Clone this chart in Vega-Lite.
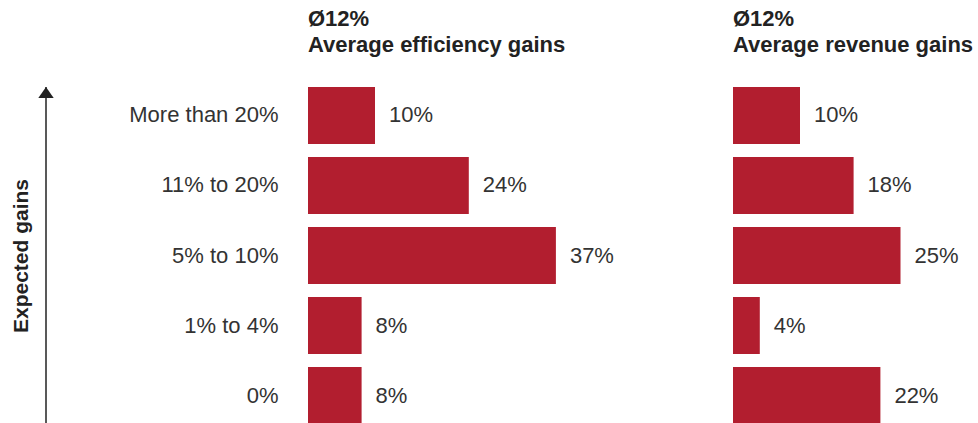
{
  "$schema": "https://vega.github.io/schema/vega-lite/v6.json",
  "background": "white",
  "padding": {"left": 10, "top": 8, "right": 0, "bottom": 0},
  "config": {
    "view": {"stroke": null},
    "font": "Liberation Sans",
    "title": {"font": "Liberation Sans", "fontSize": 22, "fontWeight": "bold", "color": "#222222", "anchor": "start", "frame": "group", "lineHeight": 26, "offset": 30}
  },
  "datasets": {
    "gains": [
      {"panel": "efficiency", "category": "More than 20%", "share": 0.10},
      {"panel": "efficiency", "category": "11% to 20%", "share": 0.24},
      {"panel": "efficiency", "category": "5% to 10%", "share": 0.37},
      {"panel": "efficiency", "category": "1% to 4%", "share": 0.08},
      {"panel": "efficiency", "category": "0%", "share": 0.08},
      {"panel": "revenue", "category": "More than 20%", "share": 0.10},
      {"panel": "revenue", "category": "11% to 20%", "share": 0.18},
      {"panel": "revenue", "category": "5% to 10%", "share": 0.25},
      {"panel": "revenue", "category": "1% to 4%", "share": 0.04},
      {"panel": "revenue", "category": "0%", "share": 0.22}
    ]
  },
  "bounds": "flush",
  "spacing": 157,
  "hconcat": [
    {
      "width": 105,
      "height": 337,
      "data": {"values": [{"direction": "up"}]},
      "layer": [
        {
          "mark": {"type": "rule", "color": "#222222", "strokeWidth": 1.5},
          "encoding": {
            "x": {"datum": 0, "type": "quantitative", "scale": {"domain": [0, 1]}, "axis": null},
            "y": {"datum": 0, "type": "quantitative", "scale": {"domain": [0, 1]},
              "axis": {"title": "Expected gains", "labels": false, "ticks": false, "domain": false, "grid": false,
                "titleFontSize": 21, "titleFontWeight": "bold", "titleColor": "#222222", "titlePadding": 15, "minExtent": 0, "maxExtent": 0}},
            "y2": {"datum": 1}
          }
        },
        {
          "mark": {"type": "point", "shape": "M0,0L0.7,1L-0.7,1Z", "size": 484, "filled": true, "color": "#222222", "opacity": 1},
          "encoding": {
            "x": {"datum": 0, "type": "quantitative"},
            "y": {"datum": 1, "type": "quantitative"}
          }
        }
      ]
    },
    {
      "width": 268,
      "height": 337,
      "title": {"text": ["Ø12%", "Average efficiency gains"]},
      "data": {"name": "gains"},
      "transform": [{"filter": "datum.panel === 'efficiency'"}],
      "encoding": {
        "y": {"field": "category", "type": "nominal", "sort": ["More than 20%", "11% to 20%", "5% to 10%", "1% to 4%", "0%"],
          "scale": {"paddingInner": 0.186, "paddingOuter": 0},
          "axis": {"title": null, "ticks": false, "domain": false, "labelFontSize": 22, "labelColor": "#333333", "labelPadding": 30, "labelFont": "Liberation Sans"}},
        "x": {"field": "share", "type": "quantitative", "scale": {"domain": [0, 0.4]}, "axis": null}
      },
      "layer": [
        {"mark": {"type": "bar", "color": "#b21e2f"}},
        {"mark": {"type": "text", "align": "left", "baseline": "middle", "dx": 14, "fontSize": 22, "color": "#333333"},
          "encoding": {"text": {"field": "share", "type": "quantitative", "format": ".0%"}}}
      ]
    },
    {
      "width": 268,
      "height": 337,
      "title": {"text": ["Ø12%", "Average revenue gains"]},
      "data": {"name": "gains"},
      "transform": [{"filter": "datum.panel === 'revenue'"}],
      "encoding": {
        "y": {"field": "category", "type": "nominal", "sort": ["More than 20%", "11% to 20%", "5% to 10%", "1% to 4%", "0%"],
          "scale": {"paddingInner": 0.186, "paddingOuter": 0}, "axis": null},
        "x": {"field": "share", "type": "quantitative", "scale": {"domain": [0, 0.4]}, "axis": null}
      },
      "layer": [
        {"mark": {"type": "bar", "color": "#b21e2f"}},
        {"mark": {"type": "text", "align": "left", "baseline": "middle", "dx": 14, "fontSize": 22, "color": "#333333"},
          "encoding": {"text": {"field": "share", "type": "quantitative", "format": ".0%"}}}
      ]
    }
  ]
}
